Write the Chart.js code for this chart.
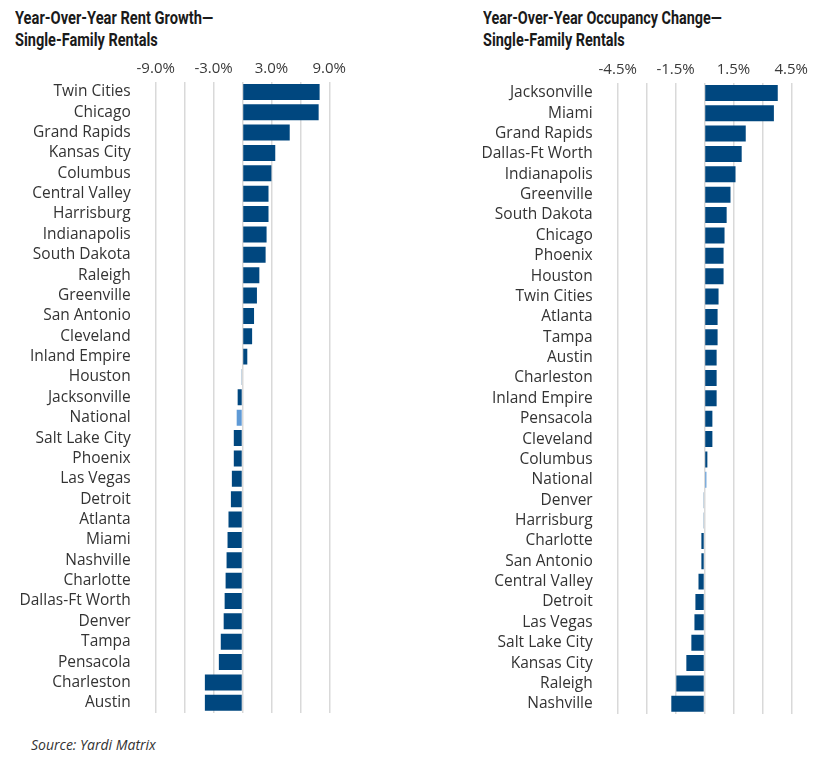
<!DOCTYPE html>
<html><head><meta charset="utf-8">
<script src="https://cdn.jsdelivr.net/npm/chart.js@4.4.0/dist/chart.umd.min.js"></script>
<style>
html,body{margin:0;padding:0;background:#fff}
body{width:817px;height:757px;position:relative;overflow:hidden;font-family:"Open Sans",sans-serif}
.tl{position:absolute;font-family:Roboto,sans-serif;font-weight:700;font-size:18px;line-height:21.5px;color:#1a1a1a;transform-origin:0 0;white-space:nowrap;transform:scaleX(0.81)}
.tl span{display:inline-block}
#w1{position:absolute;left:0;top:0;width:350px;height:720px}
#w2{position:absolute;left:430px;top:0;width:382px;height:721px}
.src{position:absolute;left:31px;top:736px;font-style:italic;font-size:14px;line-height:18px;color:#333}
</style>
</head><body>
<div class="tl" data-w="198" style="left:15px;top:7px"><span>Year-Over-Year Rent Growth—</span></div>
<div class="tl" data-w="143" style="left:15px;top:28.5px"><span>Single-Family Rentals</span></div>
<div class="tl" data-w="239" style="left:483px;top:7px"><span>Year-Over-Year Occupancy Change—</span></div>
<div class="tl" data-w="142" style="left:483px;top:28.5px"><span>Single-Family Rentals</span></div>
<div id="w1"><canvas id="c1" width="350" height="720"></canvas></div>
<div id="w2"><canvas id="c2" width="382" height="721"></canvas></div>
<div class="src">Source: Yardi Matrix</div>
<script>
const rentCities = ["Twin Cities","Chicago","Grand Rapids","Kansas City","Columbus","Central Valley","Harrisburg","Indianapolis","South Dakota","Raleigh","Greenville","San Antonio","Cleveland","Inland Empire","Houston","Jacksonville","National","Salt Lake City","Phoenix","Las Vegas","Detroit","Atlanta","Miami","Nashville","Charlotte","Dallas-Ft Worth","Denver","Tampa","Pensacola","Charleston","Austin"];
const rentValues = [8.0,7.9,4.9,3.4,3.0,2.7,2.7,2.5,2.4,1.75,1.5,1.2,1.0,0.5,-0.1,-0.5,-0.6,-0.9,-0.9,-1.1,-1.2,-1.45,-1.55,-1.65,-1.75,-1.85,-1.95,-2.25,-2.45,-3.9,-3.9];
const rentTicks = [-9,-3,3,9];

const occCities = ["Jacksonville","Miami","Grand Rapids","Dallas-Ft Worth","Indianapolis","Greenville","South Dakota","Chicago","Phoenix","Houston","Twin Cities","Atlanta","Tampa","Austin","Charleston","Inland Empire","Pensacola","Cleveland","Columbus","National","Denver","Harrisburg","Charlotte","San Antonio","Central Valley","Detroit","Las Vegas","Salt Lake City","Kansas City","Raleigh","Nashville"];
const occValues = [3.8,3.6,2.14,1.93,1.61,1.35,1.15,1.04,0.99,0.99,0.73,0.68,0.68,0.63,0.63,0.63,0.41,0.41,0.15,0.1,-0.05,-0.05,-0.16,-0.16,-0.31,-0.47,-0.52,-0.68,-0.94,-1.46,-1.72];
const occTicks = [-4.5,-1.5,1.5,4.5];

const DARK = "#00477f";
const LIGHT = "#5f9ad6";

function fitTitles(){
  document.querySelectorAll(".tl").forEach(el => {
    const w = el.querySelector("span").offsetWidth;
    if (w > 0) el.style.transform = "scaleX(" + (parseFloat(el.dataset.w) / w) + ")";
  });
}
fitTitles();
document.fonts.load("700 18px Roboto").then(fitTitles);
document.fonts.ready.then(fitTitles);

function makeChart(id, labels, values, min, max, step, shown, yWidth, padTop, padBottom){
  const colors = labels.map(l => l === "National" ? LIGHT : DARK);
  return new Chart(document.getElementById(id), {
    type: "bar",
    data: { labels: labels, datasets: [{ data: values, backgroundColor: colors, borderWidth: 0, categoryPercentage: 1, barPercentage: 0.785 }] },
    options: {
      indexAxis: "y",
      responsive: false,
      animation: false,
      layout: { padding: { top: padTop, right: 20, bottom: padBottom, left: 0 } },
      plugins: { legend: { display: false }, tooltip: { enabled: false } },
      scales: {
        x: {
          position: "top", min: min, max: max,
          grid: { color: "#d9d9d9", lineWidth: 1.5, drawTicks: false },
          border: { display: false },
          ticks: {
            stepSize: step, autoSkip: false, maxRotation: 0, padding: 4,
            color: "#3a3a3a", font: { family: "Open Sans", size: 15 },
            callback: v => shown.some(s => Math.abs(s - v) < 1e-6) ? v.toFixed(1) + "%" : ""
          },
          afterFit: s => { s.height = 30; }
        },
        y: {
          grid: { display: false, drawTicks: false }, border: { display: false },
          ticks: { padding: 25, autoSkip: false, color: "#333333", font: { family: "Open Sans", size: 15.5 } },
          afterFit: s => { s.width = yWidth; s.paddingTop = 0; s.paddingBottom = 0; }
        }
      }
    }
  });
}
makeChart("c1", rentCities, rentValues, -9, 9, 3, rentTicks, 155.7, 51.7, 7);
makeChart("c2", occCities, occValues, -4.5, 4.5, 1.5, occTicks, 187.7, 52.7, 7);
</script>
</body></html>
